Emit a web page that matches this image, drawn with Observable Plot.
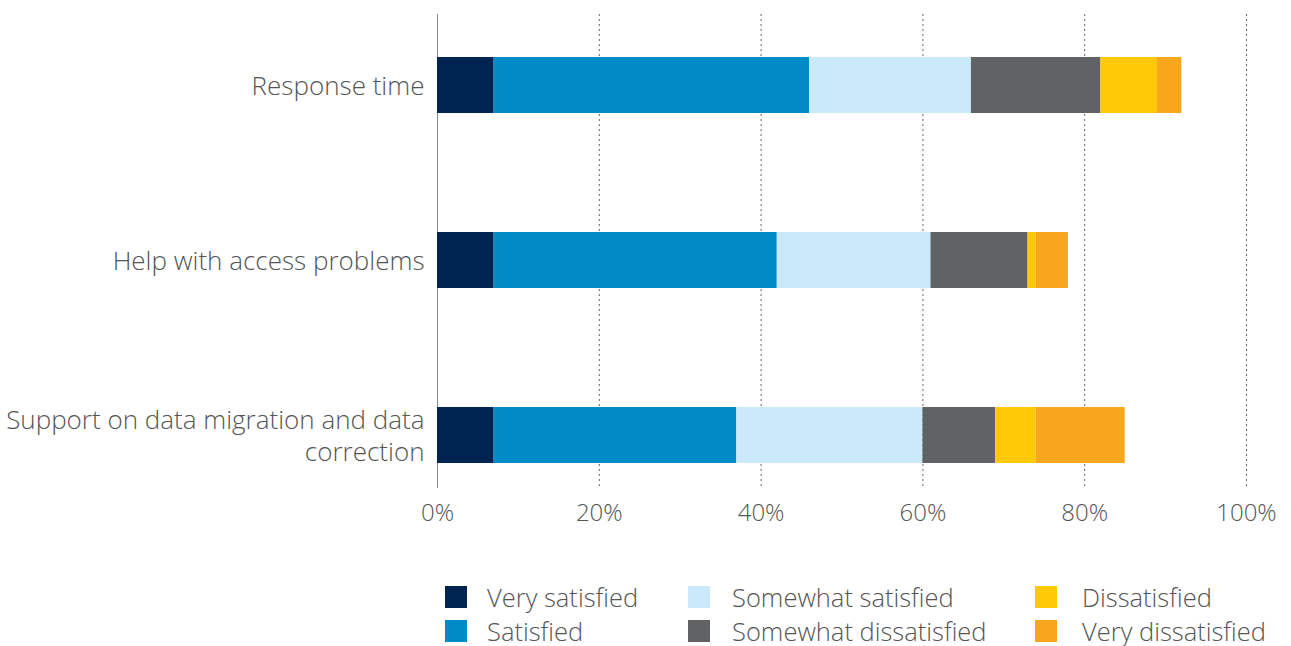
<!DOCTYPE html>
<html><head><meta charset="utf-8">
<script src="https://cdn.jsdelivr.net/npm/d3@7"></script>
<script src="https://cdn.jsdelivr.net/npm/@observablehq/plot@0.6"></script>
<style>
body{margin:0;background:#fff;font-family:"Open Sans",sans-serif;}
#chart svg{display:block;}
.legend{display:grid;grid-template-columns:243px 347px auto;grid-template-rows:34px 34px;grid-auto-flow:column;margin-left:445px;margin-top:40px;color:#555;font-size:25.5px;font-weight:300;}
.item{display:flex;align-items:center;white-space:nowrap;}
.sw{width:22px;height:22px;margin-right:20px;flex:none;}
.c2 .sw{margin-right:22px;}
.c3 .sw{margin-right:25px;}
</style></head><body><div id="chart"></div><script>
const questions = ["Response time","Help with access problems","Support on data migration and data correction"];
const categories = ["Very satisfied","Satisfied","Somewhat satisfied","Somewhat dissatisfied","Dissatisfied","Very dissatisfied"];
const colors = ["#002452","#008BC7","#CAE9FA","#616264","#FFC907","#F8A61E"];
const responseTime = [7,39,20,16,7,3];
const helpAccess = [7,35,19,12,1,4];
const dataMigration = [7,30,23,9,5,11];
const xTicks = [0,20,40,60,80,100];

const series = [responseTime, helpAccess, dataMigration];
const data = [];
questions.forEach((q,i)=>categories.forEach((c,j)=>data.push({question:q,category:c,value:series[i][j]})));

const wrap = s => s.replace(" and data correction", " and data\ncorrection");

const chart = Plot.plot({
  width:1291, height:540,
  marginLeft:437, marginRight:45, marginTop:14, marginBottom:52,
  style:{fontFamily:'"Open Sans",sans-serif', color:"#555", fontWeight:300},
  x:{domain:[0,100]},
  y:{domain:questions, paddingInner:0.68, paddingOuter:0.194, align:0.632, label:null},
  color:{domain:categories, range:colors},
  marks:[
    Plot.gridX(xTicks.filter(d=>d>0), {stroke:"#666", strokeOpacity:1, strokeDasharray:"2,3"}),
    Plot.ruleX([0], {stroke:"#888"}),
    Plot.barX(data, {x:"value", y:"question", fill:"category", order:categories}),
    Plot.axisX({ticks:xTicks, tickFormat:d=>d+"%", tickSize:0, tickPadding:15, fontSize:24, label:null}),
    Plot.axisY({tickSize:0, tickPadding:13, fontSize:26, label:null, tickFormat:wrap, lineHeight:1.25, dy:-1})
  ]
});
document.getElementById("chart").appendChild(chart);

const legend = document.createElement("div");
legend.className = "legend";
categories.forEach((c,i)=>{
  const it = document.createElement("div"); it.className="item c"+(Math.floor(i/2)+1);
  const sw = document.createElement("span"); sw.className="sw"; sw.style.background=colors[i];
  it.appendChild(sw); it.appendChild(document.createTextNode(c));
  legend.appendChild(it);
});
document.body.appendChild(legend);
</script></body></html>
